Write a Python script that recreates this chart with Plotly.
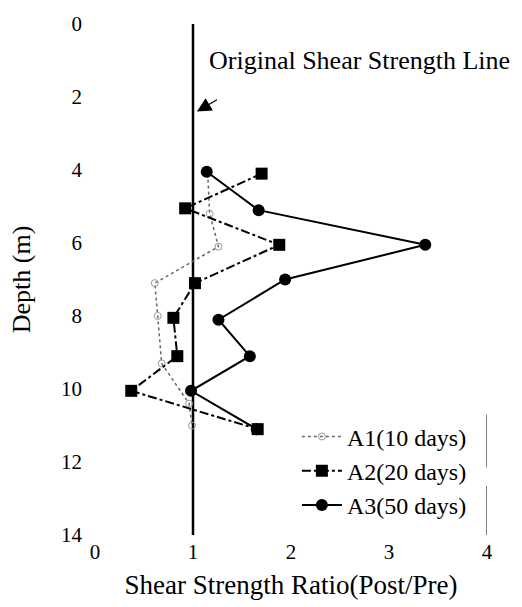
import plotly.graph_objects as go

# Data
a1_ratio = [1.15, 1.17, 1.26, 0.61, 0.64, 0.68, 0.96, 0.99]
a1_depth = [4.1, 5.2, 6.1, 7.1, 8.0, 9.3, 10.4, 11.0]
a2_ratio = [1.70, 0.92, 1.88, 1.02, 0.80, 0.84, 0.37, 1.66]
a2_depth = [4.1, 5.05, 6.05, 7.1, 8.05, 9.1, 10.05, 11.1]
a3_ratio = [1.14, 1.67, 3.37, 1.94, 1.26, 1.58, 0.98, 1.65]
a3_depth = [4.05, 5.1, 6.05, 7.0, 8.1, 9.1, 10.05, 11.1]

x_ticks = [0, 1, 2, 3, 4]
y_ticks = [0, 2, 4, 6, 8, 10, 12, 14]

FONT = "Liberation Serif"

fig = go.Figure()

# Original shear strength line (ratio = 1)
fig.add_trace(go.Scatter(x=[1, 1], y=[0, 14], mode="lines",
                         line=dict(color="black", width=2.5),
                         showlegend=False, hoverinfo="skip"))
# partial right frame
fig.add_trace(go.Scatter(x=[4, 4, None, 4, 4], y=[10.7, 12.15, None, 12.65, 14],
                         mode="lines", line=dict(color="black", width=1),
                         showlegend=False, hoverinfo="skip"))

fig.add_trace(go.Scatter(x=a1_ratio, y=a1_depth, mode="lines+markers",
                         name="A1(10 days)",
                         line=dict(color="#666666", width=1.5, dash="dot"),
                         marker=dict(symbol="circle-open", size=7, color="#999999",
                                     line=dict(width=1, color="#999999"))))
fig.add_trace(go.Scatter(x=a2_ratio, y=a2_depth, mode="lines+markers",
                         name="A2(20 days)",
                         line=dict(color="black", width=2, dash="dashdot"),
                         marker=dict(symbol="square", size=12, color="black")))
fig.add_trace(go.Scatter(x=a3_ratio, y=a3_depth, mode="lines+markers",
                         name="A3(50 days)",
                         line=dict(color="black", width=2),
                         marker=dict(symbol="circle", size=12, color="black")))

fig.add_annotation(x=1.14, y=1.0, xref="x", yref="y", text="Original Shear Strength Line",
                   showarrow=False, xanchor="left", yanchor="middle",
                   font=dict(family=FONT, size=26, color="black"))
fig.add_annotation(x=1.04, y=2.4, ax=1.26, ay=2.05, xref="x", yref="y",
                   axref="x", ayref="y", text="", showarrow=True,
                   arrowhead=2, arrowsize=2.2, arrowwidth=1.3, arrowcolor="black")

fig.update_layout(
    width=522, height=607,
    margin=dict(l=95, r=35, t=16, b=70),
    plot_bgcolor="white", paper_bgcolor="white",
    font=dict(family=FONT, size=21, color="black"),
    showlegend=True,
    legend=dict(x=0.515, y=0.236, xanchor="left", yanchor="top",
                bgcolor="rgba(0,0,0,0)", font=dict(family=FONT, size=24),
                itemwidth=40, tracegroupgap=0),
    xaxis=dict(range=[0, 4], tickvals=x_ticks, showgrid=False, zeroline=False,
               showline=False, ticks="", ticklabelstandoff=2,
               title=dict(text="Shear Strength Ratio(Post/Pre)",
                          font=dict(family=FONT, size=27), standoff=12)),
    yaxis=dict(range=[14, 0], tickvals=y_ticks, showgrid=False, zeroline=False,
               showline=False, ticks="", ticklabelstandoff=12,
               title=dict(text="Depth (m)", font=dict(family=FONT, size=26),
                          standoff=22)),
)

fig.write_html("out.html")
